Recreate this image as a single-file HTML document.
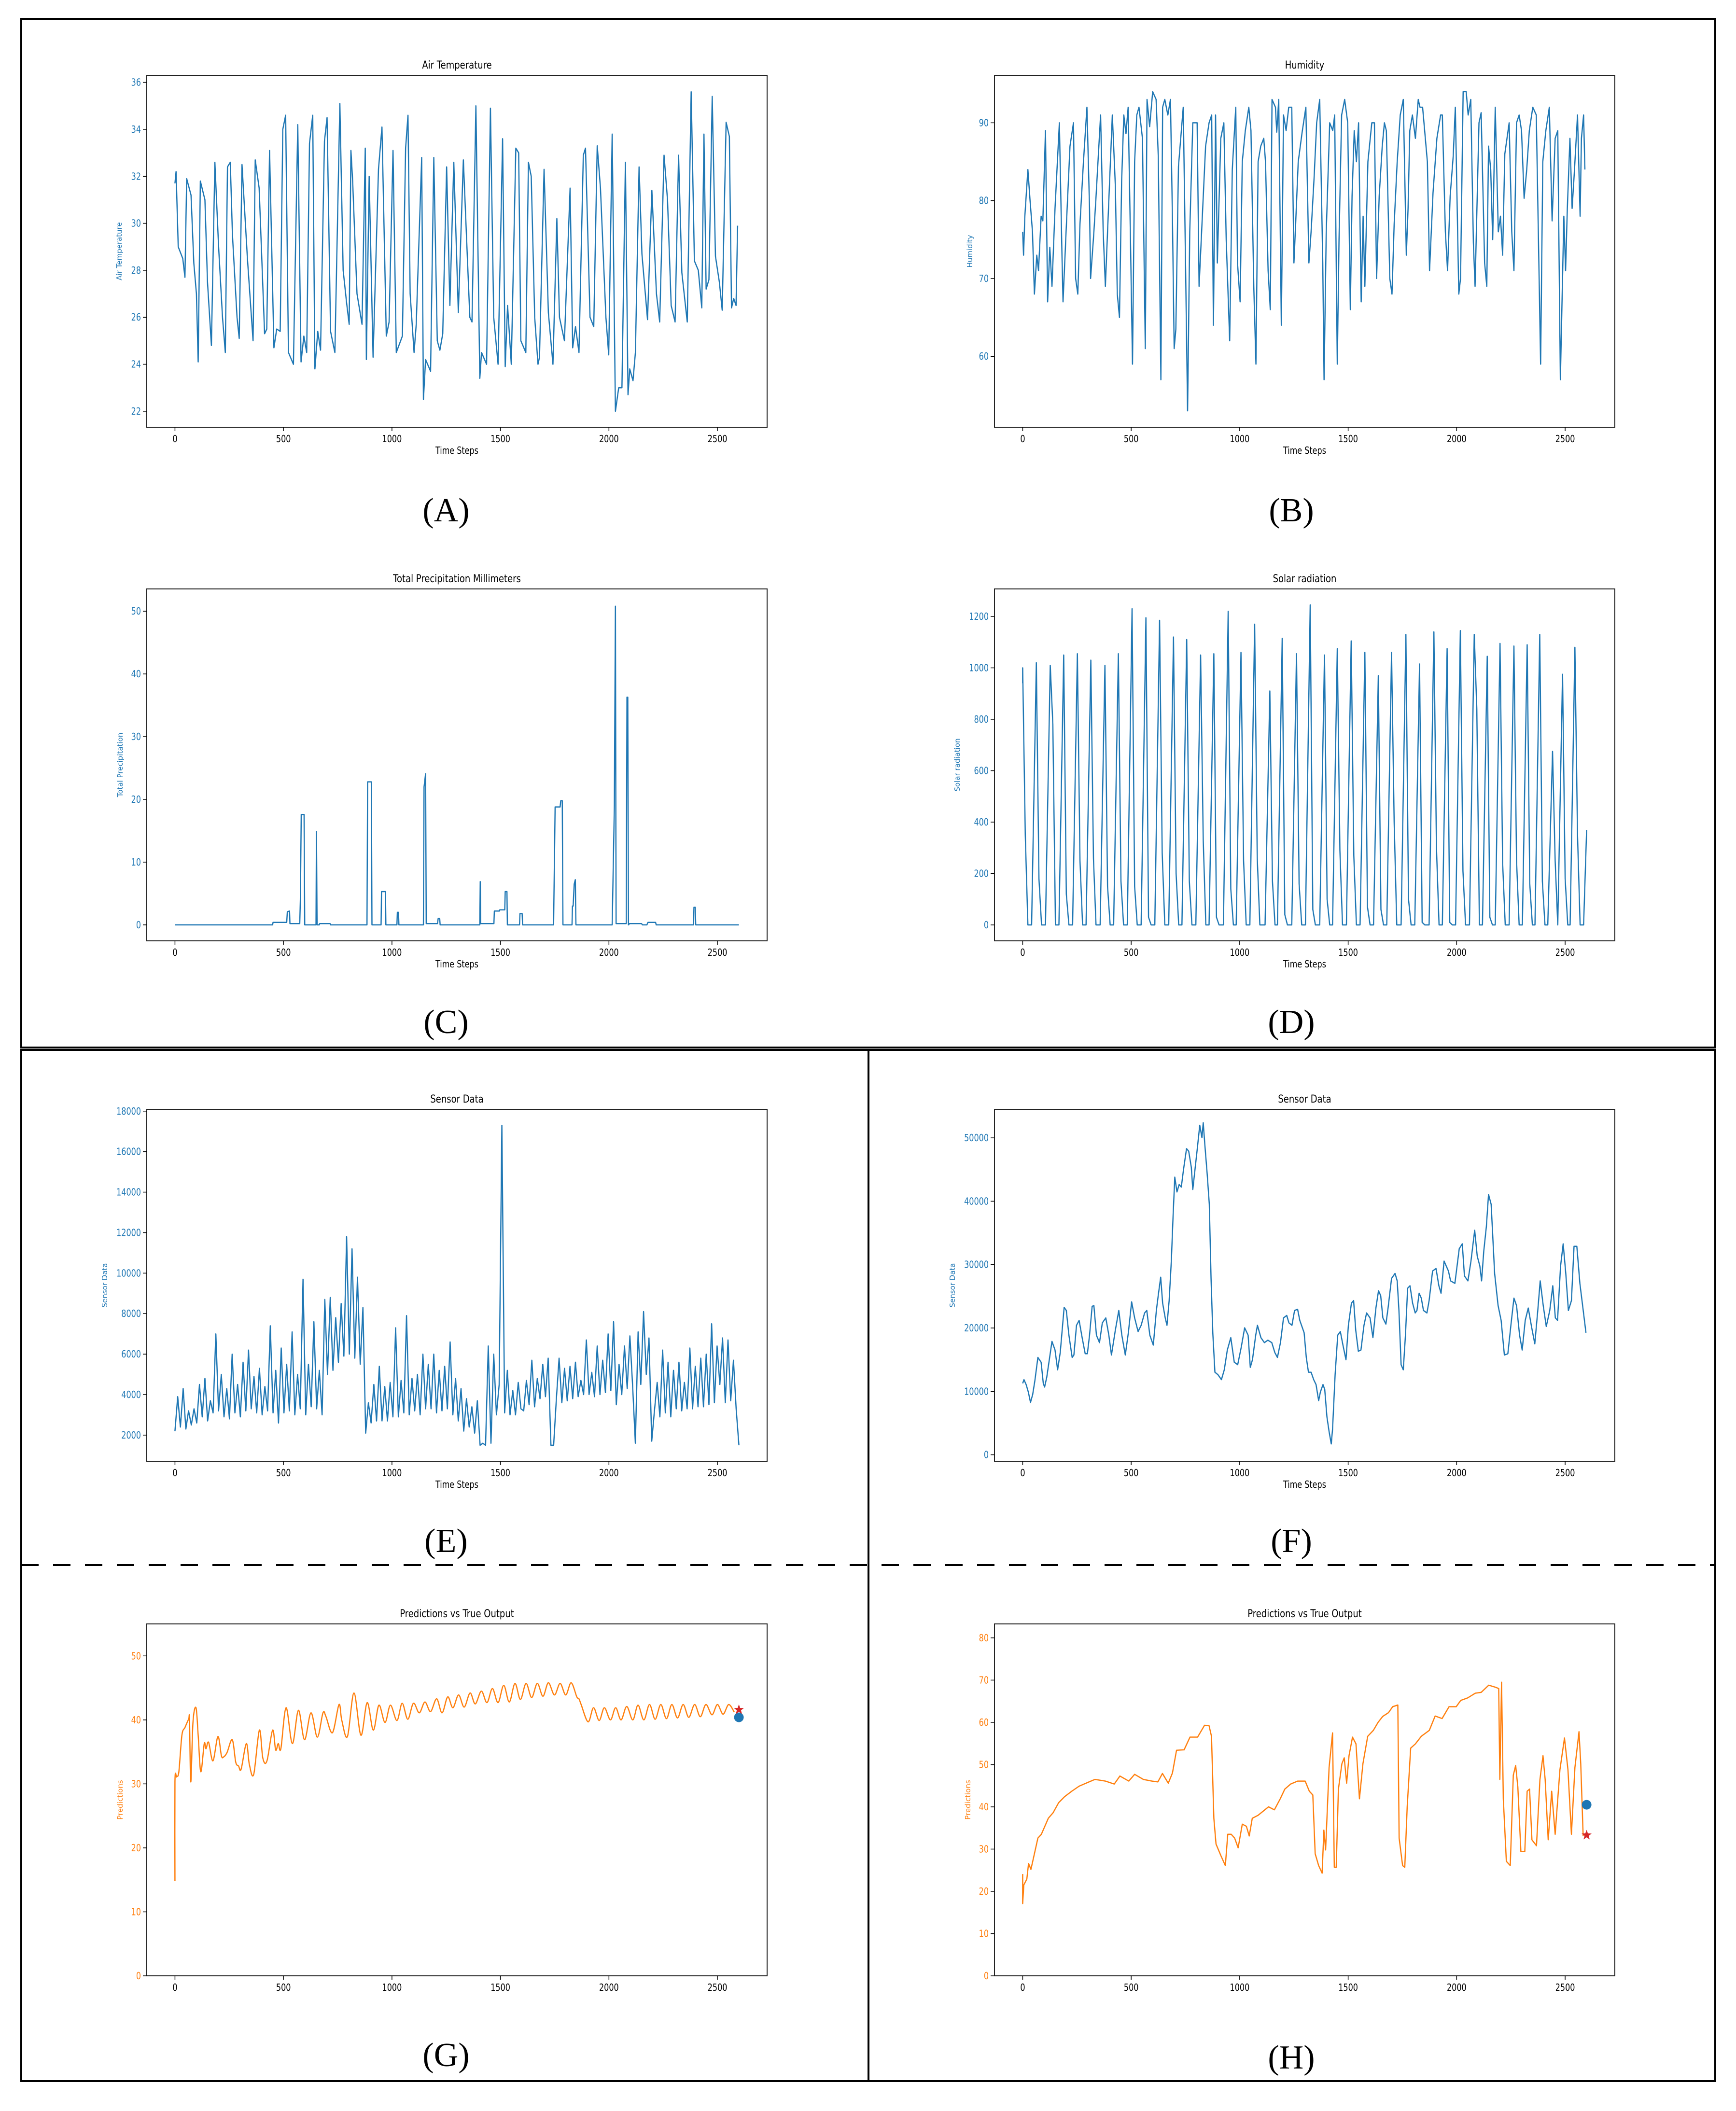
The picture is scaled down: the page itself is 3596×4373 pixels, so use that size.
<!DOCTYPE html>
<html><head><meta charset="utf-8"><style>
html,body{margin:0;padding:0;background:#fff;}
svg{display:block;font-family:"DejaVu Sans","Liberation Sans",sans-serif;}
</style></head><body>
<svg id="fig" width="3596" height="4373" viewBox="0 0 3596 4373" xmlns="http://www.w3.org/2000/svg">
<rect x="0" y="0" width="3596" height="4373" fill="#fff"/>
<rect x="44" y="39" width="3509" height="2131" fill="none" stroke="#000" stroke-width="4"/>
<rect x="44" y="2175" width="3509" height="2136" fill="none" stroke="#000" stroke-width="4"/>
<line x1="1799" y1="2175" x2="1799" y2="4311" stroke="#000" stroke-width="4"/>
<line x1="44" y1="3242" x2="3553" y2="3242" stroke="#000" stroke-width="4" stroke-dasharray="36,30"/>
<g font-family="Liberation Serif, serif" font-size="70" text-anchor="middle" fill="#000">
<text x="924" y="1080">(A)</text>
<text x="2675" y="1080">(B)</text>
<text x="924" y="2140">(C)</text>
<text x="2675" y="2140">(D)</text>
<text x="924" y="3215">(E)</text>
<text x="2675" y="3215">(F)</text>
<text x="924" y="4280">(G)</text>
<text x="2675" y="4285">(H)</text>
</g>
<g id="charts"></g>
</svg>
<script>
const xTicks = [0,500,1000,1500,2000,2500];

const tempX = [0,5,15,36,46,54,74,87,99,107,117,138,150,168,184,201,219,232,242,255,265,286,296,309,334,360,370,388,413,423,436,449,456,469,485,497,510,523,546,566,581,594,607,620,635,645,658,671,689,701,717,737,760,775,791,803,811,819,839,862,877,882,895,913,938,954,974,987,1005,1020,1048,1063,1074,1084,1102,1112,1137,1145,1155,1178,1193,1209,1221,1234,1252,1267,1285,1306,1329,1359,1369,1387,1405,1413,1436,1454,1469,1489,1510,1522,1533,1550,1571,1584,1594,1617,1629,1642,1658,1673,1680,1701,1721,1742,1760,1772,1795,1821,1833,1846,1862,1882,1892,1913,1930,1946,1961,1986,1999,2015,2030,2045,2060,2076,2088,2096,2111,2122,2139,2152,2178,2198,2219,2234,2254,2270,2287,2305,2321,2336,2361,2379,2394,2412,2428,2438,2448,2461,2476,2491,2509,2522,2540,2555,2565,2575,2586,2593];
const tempY = [31.7,32.2,29,28.5,27.7,31.9,31.2,28.3,27,24.1,31.8,31,27.5,24.8,32.6,29,26,24.5,32.4,32.6,29.5,26,25.1,32.5,28.5,25,32.7,31.5,25.3,25.5,33.1,27.7,24.7,25.5,25.4,34,34.6,24.5,24,34.2,24.1,25.2,24.5,33.4,34.6,23.8,25.4,24.6,33.5,34.5,25.4,24.5,35.1,28,26.6,25.7,33.1,31.8,27,25.7,33.2,24.2,32,24.3,32.3,34.1,25.2,25.8,33.1,24.5,25.2,33.2,34.6,27,24.5,25.7,32.8,22.5,24.2,23.7,32.8,25,24.6,25.3,32.4,26.5,32.6,26.2,32.7,26,25.8,35,23.4,24.5,24,34.9,26,24,33.6,23.9,26.5,24,33.2,33,25,24.5,32.6,32,26,24,24.3,32.3,26.2,24,30.2,26,25,31.5,24.7,25.6,24.5,32.9,33.2,26,25.6,33.3,31.5,26,24.4,33.8,22,23,23,32.6,22.7,23.8,23.3,24.5,32.4,28.7,25.9,31.4,27,25.8,32.9,31,26.5,25.8,32.9,27.9,25.8,35.6,28.4,28,26.4,33.8,27.2,27.6,35.4,28.6,27.5,26.3,34.3,33.7,26.4,26.8,26.5,29.9];
const tempTicks = [22,24,26,28,30,32,34,36];

const humX = [0,4,10,24,34,45,54,65,73,85,93,105,115,125,135,149,169,181,186,200,218,234,244,254,264,280,296,308,313,327,337,359,371,381,391,413,427,436,446,456,466,476,486,496,506,516,526,536,552,565,573,585,599,615,625,637,645,655,669,681,690,698,706,718,740,750,760,770,784,804,813,823,843,859,871,879,889,897,913,927,938,954,966,982,990,1002,1012,1026,1042,1052,1065,1075,1085,1097,1111,1119,1131,1141,1149,1165,1171,1180,1192,1202,1214,1226,1240,1250,1258,1270,1288,1305,1319,1329,1343,1355,1369,1383,1389,1399,1415,1429,1438,1450,1458,1470,1484,1498,1510,1518,1528,1538,1548,1560,1569,1577,1591,1609,1621,1631,1643,1657,1667,1676,1692,1702,1712,1726,1740,1754,1768,1776,1784,1796,1810,1823,1831,1843,1865,1875,1891,1909,1926,1934,1948,1958,1970,1984,1994,2010,2018,2030,2044,2053,2065,2077,2085,2103,2113,2129,2139,2147,2157,2166,2178,2192,2202,2212,2222,2242,2254,2264,2276,2288,2299,2311,2323,2335,2351,2367,2387,2397,2411,2427,2440,2454,2466,2478,2494,2502,2510,2522,2532,2542,2557,2569,2575,2585,2591];
const humY = [76,73,78,84,80,76,68,73,71,78,77.4,89,67,74,69,79,90,73,67,76,87,90,70,68,77,85,92,79,70,75.5,80,91,76,69,76,91,82,68,65,82.5,91,88.6,92,76,59,85,91,92,88,61,93,89.5,94,93,85.7,57,92,93,91,93,77.8,61,63.5,84.4,92,73,53,76,90,90,69,75,87,90,91,64,91,72,88,90,75,62,84,92,72,67,85,89,92,89,69,59,85,87,88,85,71,66,93,92,88.8,93,64,91,89,92,92,72,77,85,88.8,92,72,76,83,90,93,72,57,76,90,89,91,59,75,91,93,90,66,80.6,89,85,90,67,78,69,85,90,90,70,80.6,87,90,89,70,68,77,85,91,93,73,79,89,91,88,93,92,92,85,71,81,88,91,91,76,71,80.6,85.7,92,68,70,94,94,91,93,74.6,69,90,91.3,72,69,87,84,75,92,76,78,73,86,90,76,71,90,91,89,80.3,84,89,92,91,59,85,89,92,77.4,88,89,57,78,71,79,88,79,83.5,91,78,88,91,84];
const humTicks = [60,70,80,90];

const rainX = [0,450,452,515,518,528,530,575,578,582,595,598,650,652,655,665,667,715,717,885,888,905,908,950,952,970,972,1023,1025,1030,1032,1145,1148,1155,1158,1210,1213,1220,1222,1405,1407,1409,1470,1472,1495,1497,1520,1522,1530,1532,1588,1590,1600,1602,1745,1752,1775,1778,1785,1788,1830,1832,1835,1840,1845,1848,2015,2025,2030,2033,2080,2083,2087,2090,2095,2150,2155,2175,2180,2215,2218,2390,2392,2398,2400,2599];
const rainY = [0,0,0.4,0.4,2.1,2.2,0.2,0.2,4,17.6,17.6,0,0,14.9,0,0,0.2,0.2,0,0,22.8,22.8,0,0,5.3,5.3,0,0,2,2,0,0,22,24.1,0.2,0.2,1,1,0,0,6.9,0.2,0.2,2.2,2.2,2.4,2.4,5.3,5.3,0,0,1.8,1.8,0,0,18.8,18.8,19.8,19.8,0,0,3,3,6.5,7.2,0,0,19,50.8,0.2,0.2,36.3,36.3,0,0.2,0.2,0,0,0.4,0.4,0,0,2.8,2.8,0,0];
const rainTicks = [0,10,20,30,40,50];

const solarPeakX = [0,63,127,189,252,314,379,441,504,568,631,695,756,820,881,947,1006,1069,1139,1196,1262,1325,1391,1450,1514,1577,1639,1700,1766,1829,1895,1956,2017,2081,2141,2200,2264,2325,2383,2442,2488,2545];
const solarPeakV = [1000,1020,1010,1050,1055,1030,1010,1055,1230,1195,1185,1120,1110,1050,1055,1220,1060,1170,910,1115,1055,1245,1050,1075,1105,1060,970,1060,1130,1015,1140,1075,1145,1130,1045,1095,1085,1090,1130,675,975,1080];
const solarRiseX = [0,41,105,167,230,292,357,419,482,546,609,673,734,798,859,925,984,1047,1117,1174,1240,1303,1369,1428,1492,1555,1617,1678,1744,1807,1873,1934,1995,2059,2119,2178,2242,2303,2361,2420,2466,2523];
const solarSetX = [24,87,151,213,276,338,403,465,528,592,655,719,780,844,905,971,1030,1093,1163,1220,1286,1349,1415,1474,1538,1601,1663,1724,1790,1853,1919,1980,2041,2105,2165,2224,2288,2349,2407,2466,2512,2569];
const solarDipV = [350,180,780,120,250,260,150,170,150,30,280,200,170,330,30,140,250,260,170,40,160,60,100,290,270,70,60,400,100,10,300,10,210,840,30,240,250,160,170,250,180,350];
const solarTail = [[2585,0],[2599,370]];
const solarTicks = [0,200,400,600,800,1000,1200];

const sensorE = [2200,3900,2400,4300,2300,3200,2500,3300, 2600,4500,2900,4800,2700,3700,3100,7000, 3200,5000,2900,4300,2800,6000,3100,4500, 2900,5600,3200,6200,3300,4900,3100,5300, 3000,4400,3200,7400,3100,5200,2600,6300, 3100,5500,3200,7100,3000,5000,3300,9700, 3000,5500,3400,7600,3300,5200,3000,8700, 5000,8800,5200,7800,5600,8500,5900,11800, 6000,11200,5800,9800,5500,8300,2100,3600, 2600,4500,2700,5400,2700,4400,2700,4600, 2900,7300,2900,4700,3100,7900,3000,4800, 3200,5000,3000,6000,3300,5500,3300,6000, 3100,5200,3200,5400,3300,6600,3000,4800, 2700,4300,2200,3800,2400,3400,2100,3700, 1500,1600,1500,6400,1600,6000,3000,4500, 17300,3100,5200,3000,4200,3000,4600,3300, 3200,4700,3500,5700,3400,4800,3800,5500, 3900,5800,1500,1500,3800,5800,3600,5300, 3700,5400,3800,5600,3900,4700,4000,6700, 4000,5100,3900,6400,4000,5700,4100,7000, 4200,7600,3500,5500,4000,6400,4300,6900, 4400,1600,7100,4500,8100,5000,6800,1700, 3200,4600,2900,6200,3100,5600,2900,5200, 3300,5600,3200,4600,3300,6300,3300,5400, 3400,5800,3400,6000,3500,7500,3600,6400, 4500,6800,3600,6700,3700,5700,3300,1500];
const sensorETicks = [2000,4000,6000,8000,10000,12000,14000,16000,18000];

const sensorFX = [0,6,16,26,36,46,56,70,85,95,101,111,135,149,161,173,191,201,213,228,236,248,260,274,288,298,308,320,328,340,354,367,383,397,409,427,443,457,473,487,502,516,532,546,562,572,586,602,616,626,636,645,657,665,675,685,693,701,711,721,731,741,755,765,777,784,794,804,816,826,832,840,850,860,868,876,886,900,916,929,943,959,975,991,1007,1023,1039,1049,1059,1074,1082,1098,1114,1130,1148,1162,1174,1188,1202,1217,1227,1241,1253,1267,1277,1297,1307,1317,1329,1341,1352,1364,1372,1384,1392,1402,1412,1422,1428,1440,1452,1464,1476,1490,1501,1515,1525,1535,1547,1559,1573,1585,1601,1614,1628,1640,1650,1660,1674,1684,1700,1716,1726,1734,1744,1754,1764,1774,1785,1797,1809,1817,1827,1837,1847,1863,1873,1889,1905,1918,1928,1942,1962,1972,1992,2012,2026,2036,2052,2066,2083,2095,2107,2115,2125,2137,2147,2159,2175,2191,2205,2220,2236,2250,2264,2276,2290,2302,2316,2330,2346,2360,2374,2385,2399,2413,2429,2443,2455,2465,2479,2491,2503,2515,2529,2541,2554,2568,2582,2596];
const sensorFY = [11260,11850,11070,9900,8260,9500,11650,15350,14600,11260,10680,12240,17890,16520,13400,16130,23260,22760,18860,15350,15740,20420,21200,18470,15940,15940,18860,23420,23540,18860,17690,20810,21590,18860,15740,19640,22760,18860,15740,19250,24120,21590,19440,20420,22370,22760,18860,17300,22760,25490,28020,23930,21590,20420,24320,30550,37570,43800,41460,42630,42240,44970,48290,47900,45360,41850,44970,48090,51990,50040,52380,48670,44390,39520,27820,19250,13020,12630,11850,13400,16520,18470,14600,14210,16910,20030,18860,13790,14990,18860,20420,18470,17690,18080,17690,16130,15350,17690,21590,21980,20810,20420,22760,22950,21200,19250,15350,13020,13020,11850,11070,8540,9900,11070,10290,6000,3660,1710,4050,12630,18860,19440,17300,14990,20420,23930,24320,19640,16330,16520,20420,22370,21590,18470,23150,25880,25100,21590,20610,23150,27820,28600,27430,22760,14210,13400,18860,26270,26660,23930,22370,22760,25490,24710,22760,22370,24320,28990,29380,26660,25490,30550,28990,27430,27040,32500,33280,28210,27430,30550,35420,31330,29770,27430,32110,36010,41070,39520,28600,23540,21200,15740,15940,20420,24710,23540,18860,16520,21200,23150,20030,17500,22760,27430,23540,20230,22760,26660,21590,21200,29770,33280,28600,22760,24320,32890,32890,27040,23150,19250];
const sensorFTicks = [0,10000,20000,30000,40000,50000];

const predGX = [0,0,8,18,32,46,63,67,73,83,97,107,119,135,143,155,175,198,214,224,240,264,280,293,305,329,343,363,389,405,424,450,464,476,488,512,541,569,597,627,656,682,696,726,756,769,795,825,857,886,914,940,968,993,1023,1047,1073,1099,1126,1152,1178,1206,1231,1257,1281,1307,1333,1360,1384,1412,1438,1463,1489,1515,1541,1567,1592,1618,1644,1670,1696,1721,1749,1775,1801,1826,1852,1862,1872,1904,1929,1955,1979,2007,2031,2056,2082,2110,2134,2161,2187,2213,2239,2265,2290,2316,2342,2368,2395,2421,2447,2475,2500,2526,2552,2578];
const predGY = [14.8,30.3,31.1,31.9,37.6,38.8,40.1,40,30.3,39.6,41.9,37.6,31.9,36.3,35.5,36.5,33.6,37.4,34.4,34.2,34.9,36.9,33.4,32.8,32.3,36.3,33,31.5,38.4,34,33.6,38.4,35.3,36.3,35.5,41.9,36.3,41.5,36.9,41.1,37.3,41.1,40.5,38,42.4,39.9,37.4,44.2,37.6,42.7,38.4,42.3,39.6,42.3,39.9,42.6,40.1,42.6,41.1,42.8,41.3,43.3,41.1,43.6,41.9,43.9,42,44.2,42.5,44.5,42.7,44.9,42.7,45.4,42.8,45.7,43.2,45.7,43.5,45.7,43.7,45.8,43.9,45.7,43.9,45.8,43.6,43.3,42.4,39.7,41.9,39.9,41.9,40,41.9,40,42.1,40,42.3,40,42.4,40.1,42.4,40.2,42.4,40.3,42.4,40.4,42.4,40.5,42.4,40.8,42.4,40.9,42.4,41.2];
const predGTrue = [2599,40.4];
const predGNext = [2599,41.6];
const predGTicks = [0,10,20,30,40,50];

const predHX = [0,0,5,19,27,38,54,70,86,102,118,140,166,193,226,260,301,333,381,422,448,489,516,556,596,623,644,671,690,709,744,771,806,838,859,870,881,891,913,934,945,961,977,993,1012,1031,1044,1058,1085,1133,1160,1187,1208,1235,1267,1302,1321,1337,1348,1364,1380,1388,1396,1412,1428,1436,1445,1455,1471,1482,1493,1504,1520,1536,1552,1568,1590,1616,1638,1659,1686,1705,1729,1735,1751,1761,1772,1788,1810,1837,1874,1901,1933,1965,1998,2019,2051,2086,2113,2148,2180,2194,2199,2207,2215,2229,2247,2261,2272,2282,2296,2314,2325,2336,2347,2368,2384,2398,2408,2422,2438,2454,2476,2497,2513,2529,2545,2564,2572,2583];
const predHY = [24.1,17.1,21.5,22.9,26.6,25.2,28.9,32.6,33.5,35.4,37.3,38.6,41,42.4,43.7,44.9,45.8,46.5,46.1,45.4,47.3,46.1,47.7,46.5,46.1,45.9,47.9,45.6,48,53.4,53.5,56.5,56.5,59.3,59.2,56.7,37.3,31.2,28.5,26.1,33.5,33.5,32.6,30.3,35.9,35.4,33.1,37.3,38,40,39.3,41.9,44.2,45.4,46.1,46.1,43.7,42.8,28.9,26.1,24.3,34.5,29.8,49.3,57.5,25.7,25.7,44.2,50.2,51.6,45.6,52.1,56.5,54.9,41.9,50.2,56.7,58.1,60,61.4,62.3,63.7,64.1,32.6,26.1,25.7,40,53.9,54.9,56.7,58.1,61.5,60.9,63.7,63.7,65.2,65.8,66.9,67.1,68.8,68.3,68,46.5,69.5,41.9,27.1,26.1,47.5,49.8,44.7,29.4,29.4,43.7,44.2,32.2,30.8,46.5,52.1,46.5,32.2,43.7,33.5,48.8,56.3,48.8,33.5,49.3,57.8,50.2,33.1];
const predHTrue = [2599,40.5];
const predHNext = [2599,33.3];
const predHTicks = [0,10,20,30,40,50,60,70,80];

const NS = "http://www.w3.org/2000/svg";
const root = document.getElementById('charts');
function mk(tag, attrs, parent){
  const e = document.createElementNS(NS, tag);
  for (const k in attrs) e.setAttribute(k, attrs[k]);
  (parent||root).appendChild(e);
  return e;
}
const BLUE = "#1f77b4", ORANGE = "#ff7f0e";

function pairs(xs, ys){ const n=Math.min(xs.length, ys.length); const o=[]; for(let i=0;i<n;i++) o.push([xs[i],ys[i]]); return o; }

function smoothPath(P){
  let d = 'M' + P[0][0].toFixed(1) + ',' + P[0][1].toFixed(1);
  for (let i = 0; i < P.length - 1; i++) {
    const p0 = P[Math.max(0, i - 1)], p1 = P[i], p2 = P[i + 1], p3 = P[Math.min(P.length - 1, i + 2)];
    const c1x = p1[0] + (p2[0] - p0[0]) / 6, c1y = p1[1] + (p2[1] - p0[1]) / 6;
    const c2x = p2[0] - (p3[0] - p1[0]) / 6, c2y = p2[1] - (p3[1] - p1[1]) / 6;
    d += 'C' + c1x.toFixed(1) + ',' + c1y.toFixed(1) + ' ' + c2x.toFixed(1) + ',' + c2y.toFixed(1) + ' ' + p2[0].toFixed(1) + ',' + p2[1].toFixed(1);
  }
  return d;
}

function chart(key, L, T, W, H, ymin, ymax, yticks, title, ylabel, ylabOff, xlabel, color, series, smooth){
  const g = mk('g', {});
  
  
  const xs = v => L + (v + 130) / 2859 * W;
  const ys = v => T + H - (v - ymin) / (ymax - ymin) * H;
  let line;
  if (smooth) {
    const P = series.map(p => [xs(p[0]), ys(p[1])]);
    line = mk('path', {d: smoothPath(P), fill: 'none', stroke: color, 'stroke-width': 2.5, 'stroke-linejoin': 'round'}, g);
  } else {
    const pts = series.map(p => xs(p[0]).toFixed(1) + ',' + ys(p[1]).toFixed(1)).join(' ');
    line = mk('polyline', {points: pts, fill: 'none', stroke: color, 'stroke-width': 2.5, 'stroke-linejoin': 'round'}, g);
  }
  
  
  const frame = mk('rect', {x: L, y: T, width: W, height: H, fill: 'none', stroke: '#222', 'stroke-width': 2}, g);
  
  
  xTicks.forEach(t => {
    const x = xs(t);
    const tk = mk('line', {x1: x, y1: T + H, x2: x, y2: T + H + 8, stroke: '#000', 'stroke-width': 1.5}, g);
    
    
    const tx = mk('text', {transform: `translate(${x},${T + H + 31}) scale(1,1.25)`, 'font-size': 16, 'text-anchor': 'middle', fill: '#000'}, g);
    tx.textContent = t;
    
    
  });
  yticks.forEach(t => {
    const y = ys(t);
    const tk = mk('line', {x1: L - 8, y1: y, x2: L, y2: y, stroke: '#000', 'stroke-width': 1.5}, g);
    
    
    const tx = mk('text', {transform: `translate(${L - 12},${y + 7}) scale(1,1.25)`, 'font-size': 16, 'text-anchor': 'end', fill: color}, g);
    tx.textContent = t;
    
    
  });
  const ti = mk('text', {transform: `translate(${L + W / 2},${T - 14}) scale(1,1.25)`, 'font-size': 18, 'text-anchor': 'middle', fill: '#000'}, g);
  ti.textContent = title;
  
  
  const yl = mk('text', {transform: `translate(${L - ylabOff},${T + H / 2}) rotate(-90)`, 'font-size': 15, 'text-anchor': 'middle', fill: color}, g);
  yl.textContent = ylabel;
  
  
  if (xlabel) {
    const xl = mk('text', {transform: `translate(${L + W / 2},${T + H + 55}) scale(1,1.25)`, 'font-size': 16, 'text-anchor': 'middle', fill: '#000'}, g);
    xl.textContent = xlabel;
    
    
  }
  return {g, xs, ys};
}

const LX = 304, RX = 2060, CW = 1285, CH = 729;
const R1 = 156, R2 = 1220, R3 = 2298, R4 = 3364;

chart('air-temperature', LX, R1, CW, CH, 21.32, 36.3, tempTicks, 'Air Temperature', 'Air Temperature', 52, 'Time Steps', BLUE, pairs(tempX, tempY), false);
chart('humidity', RX, R1, CW, CH, 50.9, 96.1, humTicks, 'Humidity', 'Humidity', 46, 'Time Steps', BLUE, pairs(humX, humY), false);
chart('precipitation', LX, R2, CW, CH, -2.55, 53.55, rainTicks, 'Total Precipitation Millimeters', 'Total Precipitation', 50, 'Time Steps', BLUE, pairs(rainX, rainY), false);

const solarPts = [[0, 940]];
for (let i = 0; i < solarPeakX.length; i++) {
  if (i > 0) solarPts.push([solarRiseX[i], 0]);
  solarPts.push([solarPeakX[i], solarPeakV[i]]);
  solarPts.push([(solarPeakX[i] + solarSetX[i]) / 2, solarDipV[i]]);
  solarPts.push([solarSetX[i], 0]);
}
solarTail.forEach(p => solarPts.push(p));
chart('solar-radiation', RX, R2, CW, CH, -62, 1307, solarTicks, 'Solar radiation', 'Solar radiation', 72, 'Time Steps', BLUE, solarPts, false);

const ePts = sensorE.map((v, i) => [i * 2599 / (sensorE.length - 1), v]);
chart('sensor-data-e', LX, R3, CW, CH, 710, 18090, sensorETicks, 'Sensor Data', 'Sensor Data', 82, 'Time Steps', BLUE, ePts, false);
chart('sensor-data-f', RX, R3, CW, CH, -1025, 54500, sensorFTicks, 'Sensor Data', 'Sensor Data', 82, 'Time Steps', BLUE, pairs(sensorFX, sensorFY), false);

function markers(c, key, tru, nxt){
  const cx = c.xs(tru[0]), cy = c.ys(tru[1]);
  const dot = mk('circle', {cx: cx, cy: cy, r: 10, fill: BLUE}, c.g);
  
  
  const sx = c.xs(nxt[0]), sy = c.ys(nxt[1]);
  let d = '';
  for (let k = 0; k < 10; k++) {
    const r = k % 2 === 0 ? 11 : 4.5;
    const a = -Math.PI / 2 + k * Math.PI / 5;
    d += (k ? 'L' : 'M') + (sx + r * Math.cos(a)).toFixed(1) + ',' + (sy + r * Math.sin(a)).toFixed(1);
  }
  const star = mk('path', {d: d + 'Z', fill: '#d62728'}, c.g);
  
  
}
const cg = chart('predictions-g', LX, R4, CW, CH, 0, 55, predGTicks, 'Predictions vs True Output', 'Predictions', 50, '', ORANGE, pairs(predGX, predGY), true);
markers(cg, 'predictions-g', predGTrue, predGNext);
const chh = chart('predictions-h', RX, R4, CW, CH, 0, 83.3, predHTicks, 'Predictions vs True Output', 'Predictions', 50, '', ORANGE, pairs(predHX, predHY), false);
markers(chh, 'predictions-h', predHTrue, predHNext);
</script>
</body></html>
